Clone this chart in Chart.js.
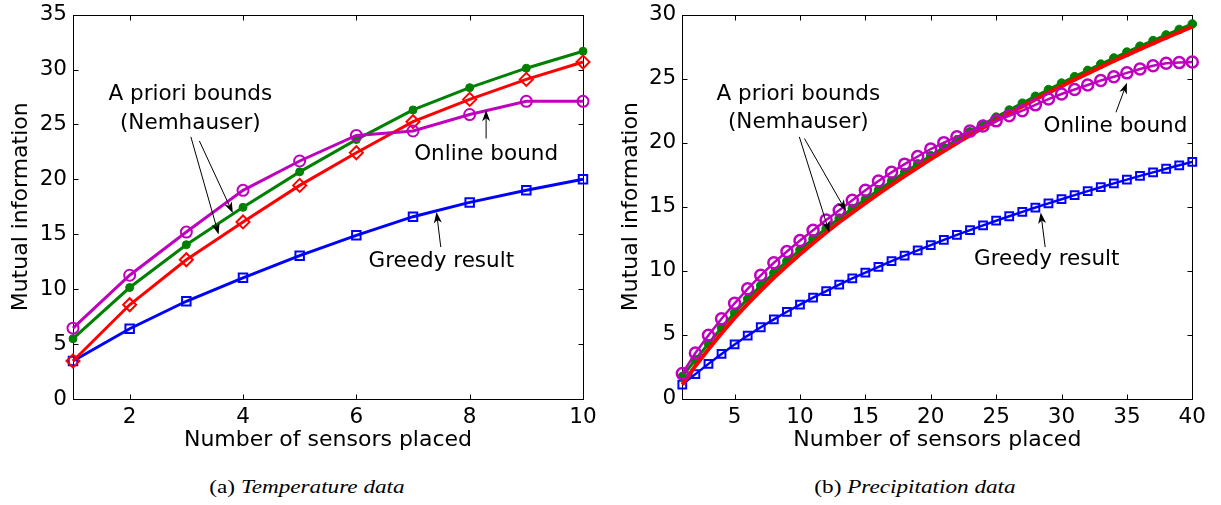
<!DOCTYPE html>
<html>
<head>
<meta charset="utf-8">
<script src="https://cdn.jsdelivr.net/npm/chart.js@4.4.0/dist/chart.umd.min.js"></script>
<style>
  html, body { margin: 0; padding: 0; background: #fff; width: 1221px; height: 505px; overflow: hidden; }
  canvas { position: absolute; top: 0; }
  #tempCanvas { left: 0; }
  #precipCanvas { left: 610px; }
  .cap {
    position: absolute; top: 476px; white-space: nowrap; color: #000;
    font-family: "Liberation Serif", "Times New Roman", serif; font-size: 19px; line-height: 22px;
    transform: translateX(-50%) scaleX(1.22);
  }
  .cap i { font-style: italic; }
</style>
</head>
<body>
<canvas id="tempCanvas" width="610" height="460"></canvas>
<canvas id="precipCanvas" width="611" height="460"></canvas>
<div class="cap" style="left:307px">(a) <i>Temperature data</i></div>
<div class="cap" style="left:915px">(b) <i>Precipitation data</i></div>

<script>
// ---- (a) Temperature data: mutual information vs. number of sensors ----
const tempSensors  = [1, 2, 3, 4, 5, 6, 7, 8, 9, 10];
const tempGreedy   = [3.46, 6.40, 8.90, 11.03, 13.05, 14.90, 16.60, 17.90, 19.00, 20.00];
const tempOnline   = [6.45, 11.27, 15.20, 19.00, 21.67, 24.00, 24.40, 25.90, 27.10, 27.10];
const tempBoundE   = [5.49, 10.15, 14.05, 17.45, 20.68, 23.62, 26.32, 28.35, 30.12, 31.66];
const tempBoundK   = [3.46, 8.58, 12.68, 16.12, 19.45, 22.42, 25.25, 27.28, 29.10, 30.68];
const tempXTicks   = [2, 4, 6, 8, 10];
const tempYTicks   = [0, 5, 10, 15, 20, 25, 30, 35];

// ---- (b) Precipitation data ----
const precipSensors = [1, 2, 3, 4, 5, 6, 7, 8, 9, 10, 11, 12, 13, 14, 15, 16, 17, 18, 19, 20,
                       21, 22, 23, 24, 25, 26, 27, 28, 29, 30, 31, 32, 33, 34, 35, 36, 37, 38, 39, 40];
const precipGreedy  = [1.10, 1.92, 2.72, 3.50, 4.24, 4.93, 5.58, 6.20, 6.79, 7.35,
                       7.89, 8.41, 8.91, 9.39, 9.85, 10.30, 10.74, 11.17, 11.59, 12.00,
                       12.40, 12.79, 13.17, 13.54, 13.90, 14.25, 14.59, 14.93, 15.26, 15.58,
                       15.90, 16.21, 16.52, 16.82, 17.11, 17.40, 17.68, 17.96, 18.23, 18.50];
const precipOnline  = [1.96, 3.57, 4.96, 6.24, 7.45, 8.58, 9.64, 10.62, 11.50, 12.35,
                       13.15, 13.95, 14.72, 15.50, 16.28, 17.00, 17.68, 18.32, 18.92, 19.50,
                       20.00, 20.45, 20.90, 21.30, 21.70, 22.10, 22.50, 22.95, 23.40, 23.80,
                       24.15, 24.50, 24.85, 25.15, 25.45, 25.75, 26.00, 26.20, 26.25, 26.30];
const precipBoundE  = [1.74, 3.04, 4.30, 5.54, 6.71, 7.80, 8.83, 9.81, 10.74, 11.63,
                       12.48, 13.30, 14.10, 14.86, 15.58, 16.29, 16.99, 17.67, 18.34, 18.98,
                       19.62, 20.23, 20.84, 21.42, 21.99, 22.54, 23.08, 23.62, 24.14, 24.65,
                       25.15, 25.64, 26.13, 26.61, 27.07, 27.53, 27.97, 28.41, 28.84, 29.27];
const precipBoundK  = [1.10, 2.56, 3.87, 5.12, 6.31, 7.41, 8.45, 9.45, 10.39, 11.29,
                       12.15, 12.98, 13.78, 14.54, 15.28, 15.99, 16.70, 17.38, 18.05, 18.71,
                       19.34, 19.96, 20.57, 21.16, 21.73, 22.29, 22.83, 23.37, 23.90, 24.41,
                       24.92, 25.41, 25.90, 26.38, 26.84, 27.30, 27.75, 28.19, 28.62, 29.05];
const precipXTicks  = [5, 10, 15, 20, 25, 30, 35, 40];
const precipYTicks  = [0, 5, 10, 15, 20, 25, 30];

const SANS = '"DejaVu Sans", "Liberation Sans", Arial, sans-serif';
const MAGENTA = '#bf00bf', RED = '#ff0000', GREEN = '#008000', BLUE = '#0000ff';
const CLEAR = 'rgba(0,0,0,0)';

const pts = (xs, ys) => xs.map((x, i) => ({ x: x, y: ys[i] }));

// Box frame with inward tick marks on all four sides
const framePlugin = {
  id: 'frame',
  beforeDatasetsDraw(chart) {
    const { ctx, chartArea: a, scales: { x, y } } = chart;
    const L = Math.round(a.left) + 0.5, R = Math.round(a.right) + 0.5;
    const T = Math.round(a.top) + 0.5, B = Math.round(a.bottom) + 0.5;
    const len = 5;
    ctx.save();
    ctx.strokeStyle = '#000';
    ctx.lineWidth = 1;
    ctx.strokeRect(L, T, R - L, B - T);
    ctx.beginPath();
    x.ticks.forEach(t => {
      const px = Math.round(x.getPixelForValue(t.value)) + 0.5;
      ctx.moveTo(px, B); ctx.lineTo(px, B - len);
      ctx.moveTo(px, T); ctx.lineTo(px, T + len);
    });
    y.ticks.forEach(t => {
      const py = Math.round(y.getPixelForValue(t.value)) + 0.5;
      ctx.moveTo(L, py); ctx.lineTo(L + len, py);
      ctx.moveTo(R, py); ctx.lineTo(R - len, py);
    });
    ctx.stroke();
    ctx.restore();
  }
};

// Text callouts and arrows placed in data coordinates
const notesPlugin = {
  id: 'notes',
  afterDatasetsDraw(chart, args, opts) {
    const { ctx, scales: { x, y } } = chart;
    ctx.save();
    ctx.fillStyle = '#000';
    ctx.strokeStyle = '#000';
    ctx.lineWidth = 1;
    (opts.arrows || []).forEach(a => {
      const x0 = x.getPixelForValue(a.from[0]), y0 = y.getPixelForValue(a.from[1]);
      const x1 = x.getPixelForValue(a.to[0]),   y1 = y.getPixelForValue(a.to[1]);
      const ang = Math.atan2(y1 - y0, x1 - x0);
      const hl = 11, hw = 4, notch = 3;
      const bx = x1 - hl * Math.cos(ang), by = y1 - hl * Math.sin(ang);
      const nx = x1 - (hl - notch) * Math.cos(ang), ny = y1 - (hl - notch) * Math.sin(ang);
      ctx.beginPath();
      ctx.moveTo(x0, y0); ctx.lineTo(nx, ny);
      ctx.stroke();
      ctx.beginPath();
      ctx.moveTo(x1, y1);
      ctx.lineTo(bx + hw * Math.sin(ang), by - hw * Math.cos(ang));
      ctx.lineTo(nx, ny);
      ctx.lineTo(bx - hw * Math.sin(ang), by + hw * Math.cos(ang));
      ctx.closePath();
      ctx.fill();
    });
    ctx.font = opts.font;
    ctx.textAlign = 'center';
    ctx.textBaseline = 'middle';
    (opts.texts || []).forEach(t => {
      ctx.fillText(t.text, x.getPixelForValue(t.at[0]), y.getPixelForValue(t.at[1]));
    });
    ctx.restore();
  }
};

function makeChart(id, cfg) {
  return new Chart(document.getElementById(id), {
    type: 'line',
    data: { datasets: cfg.datasets },
    options: {
      responsive: false,
      animation: false,
      events: [],
      layout: { padding: cfg.padding },
      elements: { line: { tension: 0 } },
      plugins: {
        legend: { display: false },
        tooltip: { enabled: false },
        notes: cfg.notes
      },
      scales: {
        x: {
          type: 'linear', min: cfg.xMin, max: cfg.xMax,
          afterBuildTicks: s => { s.ticks = cfg.xTicks.map(v => ({ value: v })); },
          afterFit: s => { s.height = cfg.xHeight; },
          grid: { display: false, drawTicks: false },
          border: { display: false },
          ticks: { color: '#000', padding: 6, maxRotation: 0, autoSkip: false,
                   font: { family: SANS, size: 21.5, lineHeight: 1.2 } },
          title: { display: true, text: 'Number of sensors placed', color: '#000',
                   font: { family: SANS, size: 22, lineHeight: 1.2 }, padding: { top: 0, bottom: 7 } }
        },
        y: {
          type: 'linear', min: 0, max: cfg.yMax,
          afterBuildTicks: s => { s.ticks = cfg.yTicks.map(v => ({ value: v })); },
          afterFit: s => { s.width = cfg.yWidth; },
          grid: { display: false, drawTicks: false },
          border: { display: false },
          ticks: { color: '#000', padding: 6,
                   font: { family: SANS, size: 21.5, lineHeight: 0.8 } },
          title: { display: true, text: 'Mutual information', color: '#000',
                   font: { family: SANS, size: 22, lineHeight: 1.2 }, padding: { top: 8, bottom: 0 } }
        }
      }
    },
    plugins: [framePlugin, notesPlugin]
  });
}

const noteFont = '21.5px ' + SANS;

makeChart('tempCanvas', {
  padding: { left: 0, top: 12, right: 27, bottom: 0 },
  xMin: 1, xMax: 10, xTicks: tempXTicks, yMax: 35, yTicks: tempYTicks,
  xHeight: 61, yWidth: 73,
  datasets: [
    { label: 'Online bound', data: pts(tempSensors, tempOnline), order: 1, clip: false,
      borderColor: MAGENTA, borderWidth: 3, pointStyle: 'circle', pointRadius: 5.5,
      pointBorderWidth: 2, pointBorderColor: MAGENTA, pointBackgroundColor: CLEAR },
    { label: 'A priori bound (k)', data: pts(tempSensors, tempBoundK), order: 2, clip: false,
      borderColor: RED, borderWidth: 3, pointStyle: 'rectRot', pointRadius: 6.5,
      pointBorderWidth: 2, pointBorderColor: RED, pointBackgroundColor: CLEAR },
    { label: 'A priori bound (1-1/e)', data: pts(tempSensors, tempBoundE), order: 3, clip: false,
      borderColor: GREEN, borderWidth: 3, pointStyle: 'circle', pointRadius: 4,
      pointBorderWidth: 1, pointBorderColor: GREEN, pointBackgroundColor: GREEN },
    { label: 'Greedy result', data: pts(tempSensors, tempGreedy), order: 4, clip: false,
      borderColor: BLUE, borderWidth: 3, pointStyle: 'rect', pointRadius: 6,
      pointBorderWidth: 2, pointBorderColor: BLUE, pointBackgroundColor: CLEAR }
  ],
  notes: {
    font: noteFont,
    texts: [
      { text: 'A priori bounds', at: [3.07, 27.75] },
      { text: '(Nemhauser)',     at: [3.07, 25.05] },
      { text: 'Online bound',    at: [8.29, 22.29] },
      { text: 'Greedy result',   at: [7.50, 12.57] }
    ],
    arrows: [
      { from: [3.08, 23.87], to: [3.57, 14.98] },
      { from: [3.23, 23.50], to: [3.82, 16.93] },
      { from: [8.29, 23.72], to: [8.29, 26.28] },
      { from: [7.49, 13.83], to: [7.415, 17.02] }
    ]
  }
});

makeChart('precipCanvas', {
  padding: { left: 0, top: 9.3, right: 28.7, bottom: 0 },
  xMin: 1, xMax: 40, xTicks: precipXTicks, yMax: 30, yTicks: precipYTicks,
  xHeight: 61.3, yWidth: 72.3,
  datasets: [
    { label: 'Online bound', data: pts(precipSensors, precipOnline), order: 1, clip: false,
      borderColor: MAGENTA, borderWidth: 2.5, pointStyle: 'circle', pointRadius: 5.5,
      pointBorderWidth: 2.5, pointBorderColor: MAGENTA, pointBackgroundColor: CLEAR },
    { label: 'A priori bound (k)', data: pts(precipSensors, precipBoundK), order: 2, clip: false,
      borderColor: RED, borderWidth: 4, pointRadius: 0 },
    { label: 'A priori bound (1-1/e)', data: pts(precipSensors, precipBoundE), order: 3, clip: false,
      borderColor: GREEN, borderWidth: 3, pointStyle: 'circle', pointRadius: 4.3,
      pointBorderWidth: 1, pointBorderColor: GREEN, pointBackgroundColor: GREEN },
    { label: 'Greedy result', data: pts(precipSensors, precipGreedy), order: 4, clip: false,
      borderColor: BLUE, borderWidth: 2.5, pointStyle: 'rect', pointRadius: 5.5,
      pointBorderWidth: 2, pointBorderColor: BLUE, pointBackgroundColor: CLEAR }
  ],
  notes: {
    font: noteFont,
    texts: [
      { text: 'A priori bounds', at: [9.87, 23.78] },
      { text: '(Nemhauser)',     at: [9.87, 21.60] },
      { text: 'Online bound',    at: [34.12, 21.24] },
      { text: 'Greedy result',   at: [28.87, 10.84] }
    ],
    arrows: [
      { from: [9.95, 20.45],  to: [12.24, 13.00] },
      { from: [10.34, 20.32], to: [13.51, 14.67] },
      { from: [34.16, 22.37], to: [35.00, 24.68] },
      { from: [28.75, 11.84], to: [28.41, 14.54] }
    ]
  }
});
</script>
</body>
</html>
